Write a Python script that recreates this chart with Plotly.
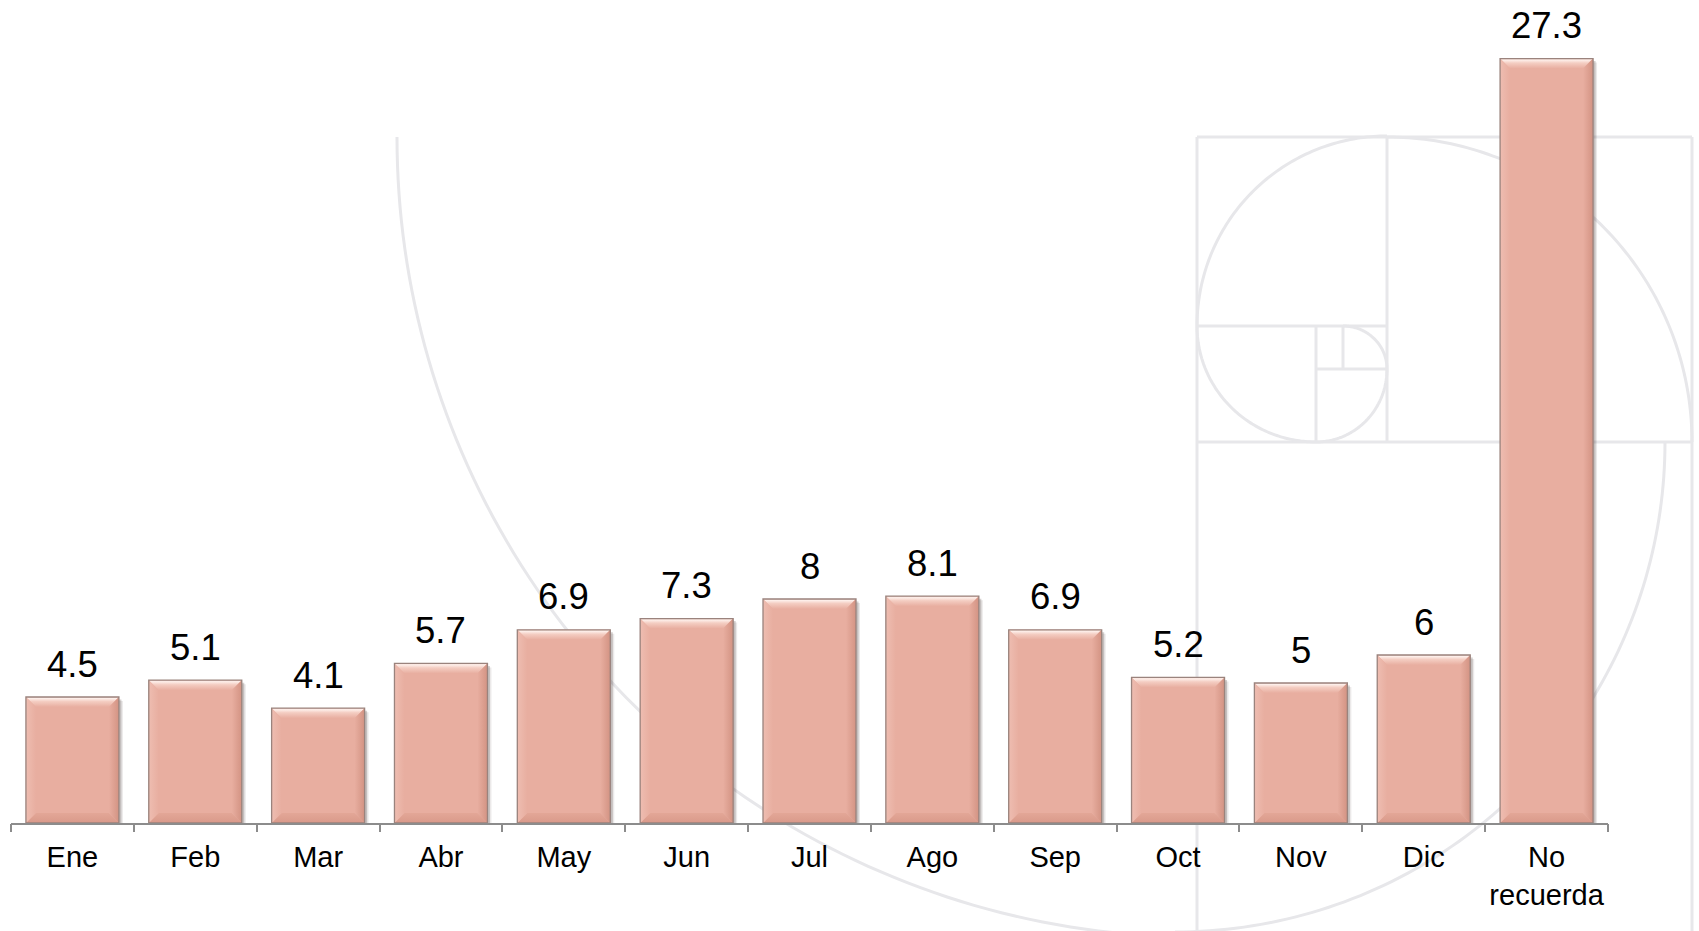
import numpy as np
import plotly.graph_objects as go

# ---- data -------------------------------------------------------------
categories = ["Ene", "Feb", "Mar", "Abr", "May", "Jun", "Jul", "Ago",
              "Sep", "Oct", "Nov", "Dic", "No<br>recuerda"]
values = [4.5, 5.1, 4.1, 5.7, 6.9, 7.3, 8, 8.1, 6.9, 5.2, 5, 6, 27.3]

# ---- geometry / style -------------------------------------------------
W, H = 1699, 931
ML, MR, MT, MB = 11, 91, 20, 108
PW, PH = W - ML - MR, H - MT - MB
PX_PER_UNIT = 28.0
YMAX = PH / PX_PER_UNIT
N = len(categories)
CAT_PX = PW / N
BAR_W = 0.757

BODY = "#E8AEA0"
OUTLINE = "#9A837D"
FONT = "Liberation Sans, Arial, sans-serif"

# bevel sizes (pixels converted to data units)
BEV_Y = 10 / PX_PER_UNIT
BEV_X = 10 / CAT_PX

xs = list(range(N))

fig = go.Figure()

# soft drop shadow behind each bar (drawn as offset bars underneath)
for off, alpha in ((4, 0.10), (2.5, 0.22)):
    dx, dy = off / CAT_PX, off / PX_PER_UNIT
    fig.add_trace(go.Bar(x=[xi + dx for xi in xs],
                         y=[v - dy for v in values], width=BAR_W,
                         marker=dict(color=f"rgba(60,40,35,{alpha})",
                                     line=dict(width=0)),
                         hoverinfo="skip", showlegend=False))

# bar bodies
fig.add_trace(go.Bar(x=xs, y=values, width=BAR_W,
                     marker=dict(color=BODY, line=dict(width=0)),
                     hoverinfo="skip", showlegend=False))


def facet(px, py, scale, orientation):
    fig.add_trace(go.Scatter(
        x=px, y=py, mode="lines", fill="toself",
        fillgradient=dict(type=orientation, colorscale=scale),
        line=dict(width=0), hoverinfo="skip", showlegend=False))


top_scale = [[0, BODY], [0.55, "#F4CDC2"], [0.85, "#FDEEE9"], [1, "#F7DAD1"]]
bot_scale = [[0, "#D9998A"], [1, "#E3A797"]]
right_scale = [[0, BODY], [1, "#D39383"]]
left_scale = [[0, "#EEBDB1"], [1, BODY]]

for xi, v in zip(xs, values):
    l, r = xi - BAR_W / 2, xi + BAR_W / 2
    # top bevel
    facet([l, r, r - BEV_X, l + BEV_X, l], [v, v, v - BEV_Y, v - BEV_Y, v],
          top_scale, "vertical")
    # bottom bevel
    facet([l, r, r - BEV_X, l + BEV_X, l], [0, 0, BEV_Y, BEV_Y, 0],
          bot_scale, "vertical")
    # right bevel
    facet([r, r, r - BEV_X, r - BEV_X, r], [0, v, v - BEV_Y, BEV_Y, 0],
          right_scale, "horizontal")
    # left bevel
    facet([l, l, l + BEV_X, l + BEV_X, l], [0, v, v - BEV_Y, BEV_Y, 0],
          left_scale, "horizontal")

# bar outlines (on the overlay axis that also carries the boundary ticks)
ox, oy = [], []
for xi, v in zip(xs, values):
    l, r = xi - BAR_W / 2, xi + BAR_W / 2
    ox += [l, r, r, l, l, None]
    oy += [0, 0, v, v, 0, None]
fig.add_trace(go.Scatter(x=ox, y=oy, xaxis="x2", mode="lines",
                         line=dict(color=OUTLINE, width=1.3),
                         hoverinfo="skip", showlegend=False))

# value labels
for xi, v in zip(xs, values):
    fig.add_annotation(x=xi, y=v, text=f"{v:g}", showarrow=False,
                       yanchor="middle", yshift=33,
                       font=dict(family=FONT, size=36.5, color="black"))


# ---- faint golden-spiral backdrop -------------------------------------
def to_paper(px, py):
    return (px - ML) / PW, (H - MB - py) / PH


def path_from(points):
    parts = []
    for k, (px, py) in enumerate(points):
        xp, yp = to_paper(px, py)
        parts.append(("M" if k == 0 else "L") + f"{xp:.5f},{yp:.5f}")
    return " ".join(parts)


def arc(cx, cy, rx, ry, a0, a1, n=90):
    a = np.radians(np.linspace(a0, a1, n))
    return list(zip(cx + rx * np.cos(a), cy + ry * np.sin(a)))


deco_lines = [
    [(1197, 137), (1197, 940)],
    [(1692, 137), (1692, 940)],
    [(1197, 137), (1692, 137)],
    [(1197, 442), (1692, 442)],
    [(1387, 137), (1387, 442)],
    [(1197, 326), (1387, 326)],
    [(1316, 326), (1316, 442)],
    [(1316, 369), (1387, 369)],
    [(1343, 326), (1343, 369)],
]
deco_arcs = [
    arc(1197, 137, 800, 800, 180, 90),
    arc(1387, 326, 190, 190, 180, 270),
    arc(1316, 326, 119, 116, 180, 90),
    arc(1316, 369, 71, 73, 90, 0),
    arc(1343, 369, 44, 43, 0, -90),
    arc(1387, 442, 305, 305, 270, 360),
    arc(1175, 442, 490, 490, 0, 90),
]
shapes = []
for pts in deco_lines + deco_arcs:
    shapes.append(dict(type="path", xref="paper", yref="paper",
                       path=path_from(pts), layer="below",
                       line=dict(color="#E7E7EA", width=3)))

# ---- layout -----------------------------------------------------------
fig.update_layout(
    width=W, height=H,
    margin=dict(l=ML, r=MR, t=MT, b=MB, pad=0),
    paper_bgcolor="white", plot_bgcolor="white",
    showlegend=False, barmode="overlay",
    shapes=shapes,
    font=dict(family=FONT, color="black"),
    xaxis=dict(range=[-0.5, N - 0.5], tickmode="array", tickvals=xs,
               ticktext=categories, ticks="", showgrid=False, zeroline=False,
               showline=True, linecolor="#8C8C8C", linewidth=2,
               tickfont=dict(family=FONT, size=29, color="black"),
               ticklabelstandoff=7, fixedrange=True),
    xaxis2=dict(range=[-0.5, N - 0.5], overlaying="x", anchor="y",
                side="bottom", tickmode="array",
                tickvals=[k - 0.5 for k in range(N + 1)],
                ticks="outside", ticklen=8, tickwidth=2, tickcolor="#8C8C8C",
                showticklabels=False, showgrid=False, zeroline=False,
                showline=False, fixedrange=True),
    yaxis=dict(range=[0, YMAX], visible=False, showgrid=False,
               zeroline=False, fixedrange=True),
)

fig.write_html("out.html")
